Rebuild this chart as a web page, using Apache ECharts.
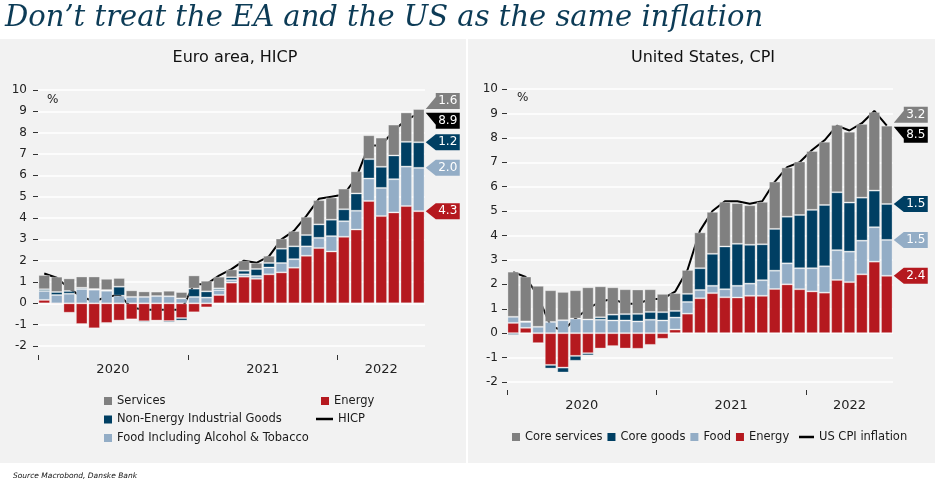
<!DOCTYPE html>
<html><head><meta charset="utf-8">
<script src="https://cdn.jsdelivr.net/npm/echarts@6/dist/echarts.min.js"></script>
<style>html,body{margin:0;padding:0;background:#fff}#c{width:935px;height:480px}</style>
</head><body><div id="c"></div>
<script>
const months = ['2020-01','2020-02','2020-03','2020-04','2020-05','2020-06','2020-07','2020-08','2020-09','2020-10','2020-11','2020-12',
'2021-01','2021-02','2021-03','2021-04','2021-05','2021-06','2021-07','2021-08','2021-09','2021-10','2021-11','2021-12',
'2022-01','2022-02','2022-03','2022-04','2022-05','2022-06','2022-07'];
const yearLabels = ['2020','2021','2022'];

// Euro area, HICP contributions (pp)
const eaEnergy   = [0.16,-0.05,-0.44,-0.97,-1.17,-0.92,-0.81,-0.75,-0.84,-0.81,-0.83,-0.69,-0.42,-0.19,0.39,0.97,1.25,1.15,1.36,1.45,1.67,2.23,2.59,2.43,3.12,3.46,4.80,4.09,4.26,4.56,4.32];
const eaFood     = [0.42,0.39,0.45,0.67,0.64,0.59,0.36,0.30,0.30,0.34,0.33,0.23,0.30,0.27,0.23,0.12,0.11,0.13,0.32,0.44,0.40,0.44,0.48,0.72,0.73,0.88,1.05,1.32,1.56,1.85,2.03];
const eaNeig     = [0.08,0.14,0.13,0.06,0.03,0.03,0.42,-0.03,-0.06,-0.03,-0.07,-0.12,0.39,0.29,0.08,0.13,0.17,0.33,0.21,0.67,0.60,0.53,0.63,0.77,0.56,0.81,0.91,0.99,1.11,1.16,1.20];
const eaServices = [0.67,0.72,0.59,0.53,0.59,0.53,0.41,0.31,0.26,0.21,0.26,0.30,0.62,0.50,0.55,0.37,0.47,0.29,0.34,0.48,0.72,0.86,1.14,1.04,0.97,1.04,1.12,1.37,1.45,1.38,1.56];
const eaHicp     = [1.4,1.2,0.7,0.3,0.1,0.3,0.4,-0.2,-0.3,-0.3,-0.3,-0.3,0.9,0.9,1.3,1.6,2.0,1.9,2.2,3.0,3.4,4.1,4.9,5.0,5.1,5.9,7.4,7.4,8.1,8.6,8.9];

// United States, CPI contributions (pp)
const usEnergy       = [0.42,0.22,-0.41,-1.30,-1.41,-0.93,-0.82,-0.63,-0.53,-0.63,-0.64,-0.48,-0.23,0.15,0.80,1.43,1.64,1.47,1.46,1.53,1.53,1.81,2.00,1.80,1.71,1.66,2.18,2.09,2.41,2.93,2.35];
const usFood         = [0.25,0.24,0.26,0.46,0.53,0.60,0.56,0.55,0.52,0.52,0.48,0.55,0.52,0.49,0.48,0.34,0.30,0.33,0.48,0.50,0.64,0.75,0.86,0.86,0.95,1.08,1.22,1.25,1.38,1.41,1.47];
const usCoreGoods    = [-0.07,0.02,-0.02,-0.15,-0.20,-0.20,-0.09,0.10,0.24,0.26,0.31,0.32,0.34,0.27,0.33,0.89,1.31,1.75,1.72,1.59,1.47,1.71,1.91,2.18,2.39,2.51,2.37,2.01,1.76,1.50,1.47];
const usCoreServices = [1.85,1.84,1.68,1.30,1.16,1.16,1.32,1.27,1.12,1.02,1.00,0.93,0.75,0.73,0.98,1.47,1.72,1.83,1.67,1.62,1.74,1.94,2.02,2.19,2.41,2.59,2.76,2.90,3.02,3.22,3.21];
const usCpi          = [2.5,2.3,1.5,0.3,0.1,0.6,1.0,1.3,1.4,1.2,1.2,1.4,1.4,1.7,2.6,4.2,5.0,5.4,5.4,5.3,5.4,6.2,6.8,7.0,7.5,7.9,8.5,8.3,8.6,9.1,8.5];

const C = {services:'#808080', neig:'#003f63', food:'#93adc6', energy:'#b5191f', line:'#000000'};
const FONT = '"DejaVu Sans", sans-serif';
const last = months.length - 1;

const TAG_MID = 'path://M0,8L10,0L34,0L34,16L10,16Z';
const TAG_DOWN = 'path://M0,16L10,4L10,0L34,0L34,16Z';
const TAG_UP = 'path://M0,0L34,0L34,16L10,16L10,12Z';

function tag(top, val, color, shape, dy) {
  return {
    silent: true,
    symbol: shape,
    symbolSize: [34, 16],
    symbolOffset: [24, dy],
    symbolKeepAspect: false,
    itemStyle: {color: color, borderWidth: 0},
    label: {show: true, position: 'inside', offset: [5, 0], color: '#fff', fontFamily: FONT, fontSize: 12,
      formatter: p => Number(p.value).toFixed(1)},
    data: [{coord: [months[last], top], value: val}]
  };
}

function barSeries(name, data, color, xi, yi, mp) {
  return {
    name: name, type: 'bar', stack: 'tot' + xi, data: data,
    xAxisIndex: xi, yAxisIndex: yi, barCategoryGap: '7%',
    itemStyle: {color: color, borderColor: 'rgba(255,255,255,0.3)', borderWidth: 1},
    emphasis: {disabled: true}, clip: false,
    markPoint: mp
  };
}

const eaTops = [eaEnergy[last], eaEnergy[last]+eaFood[last], eaEnergy[last]+eaFood[last]+eaNeig[last], eaEnergy[last]+eaFood[last]+eaNeig[last]+eaServices[last]];
const usTops = [usEnergy[last], usEnergy[last]+usFood[last], usEnergy[last]+usFood[last]+usCoreGoods[last], usEnergy[last]+usFood[last]+usCoreGoods[last]+usCoreServices[last]];

function yAx(gi, margin) {
  return {
    type: 'value', gridIndex: gi, min: -2, max: 10, interval: 1,
    axisLine: {show: false},
    axisTick: {show: true, length: 5, lineStyle: {color: '#333'}},
    axisLabel: {color: '#222', fontFamily: FONT, fontSize: 12, margin: margin},
    splitLine: {lineStyle: {color: '#ffffff', width: 1.5}}
  };
}
function xCat(gi) {
  return {type: 'category', gridIndex: gi, data: months, show: false};
}
function xYears(gi, offset, margin) {
  return {
    type: 'value', gridIndex: gi, min: 0, max: months.length, position: 'bottom', offset: offset,
    axisLine: {show: false}, splitLine: {show: false},
    axisTick: {show: true, length: 5, customValues: [0, 12, 24], lineStyle: {color: '#333'}},
    axisLabel: {color: '#222', fontFamily: FONT, fontSize: 13, margin: margin, customValues: [6, 18, 27.5],
      formatter: v => yearLabels[v < 12 ? 0 : (v < 24 ? 1 : 2)]}
  };
}

const legendText = {color: '#1a1a1a', fontFamily: FONT, fontSize: 11.5};

const option = {
  animation: false,
  backgroundColor: '#ffffff',
  graphic: [
    {type: 'rect', shape: {x: 0, y: 39, width: 466, height: 424}, style: {fill: '#f2f2f2'}, z: -10},
    {type: 'rect', shape: {x: 468, y: 39, width: 467, height: 424}, style: {fill: '#f2f2f2'}, z: -10},
    {type: 'text', x: 5, y: 18, style: {text: 'Don\u2019t treat the EA and the US as the same inflation', font: 'italic 29px "DejaVu Serif", serif', fill: '#0c3b56', verticalAlign: 'middle'}},
    {type: 'text', x: 235, y: 58, style: {text: 'Euro area, HICP', font: '16px ' + FONT, fill: '#111', align: 'center', verticalAlign: 'middle'}},
    {type: 'text', x: 703, y: 58, style: {text: 'United States, CPI', font: '16px ' + FONT, fill: '#111', align: 'center', verticalAlign: 'middle'}},
    {type: 'text', x: 47, y: 100, style: {text: '%', font: '12px ' + FONT, fill: '#222', verticalAlign: 'middle'}},
    {type: 'text', x: 517, y: 98, style: {text: '%', font: '12px ' + FONT, fill: '#222', verticalAlign: 'middle'}},
    {type: 'text', x: 13, y: 476, style: {text: 'Source Macrobond, Danske Bank', font: 'italic 7.5px ' + FONT, fill: '#111', verticalAlign: 'middle'}}
  ],
  grid: [
    {left: 38, top: 90, width: 387, height: 256},
    {left: 507, top: 89, width: 386, height: 293}
  ],
  xAxis: [xCat(0), xYears(0, 9, 8), xCat(1), xYears(1, 8, 9)],
  yAxis: [yAx(0, 11), yAx(1, 9)],
  legend: [
    {left: 99, top: 390, orient: 'vertical', itemWidth: 8, itemHeight: 8, itemGap: 6.5, icon: 'rect', textStyle: legendText,
     itemStyle: {borderWidth: 0}, selectedMode: false,
     data: ['Services', 'Non-Energy Industrial Goods', 'Food Including Alcohol & Tobacco']},
    {left: 316, top: 390, orient: 'vertical', itemWidth: 8, itemHeight: 8, icon: 'rect', textStyle: legendText,
     itemStyle: {borderWidth: 0}, selectedMode: false, data: ['Energy']},
    {left: 311, top: 408, itemWidth: 17, itemHeight: 2.5, icon: 'rect', textStyle: legendText, selectedMode: false, data: ['HICP']},
    {left: 507, top: 426, itemWidth: 8, itemHeight: 8, itemGap: 5, icon: 'rect', textStyle: legendText,
     itemStyle: {borderWidth: 0}, selectedMode: false, data: ['Core services', 'Core goods', 'Food', 'Energy']},
    {left: 794, top: 426, itemWidth: 15, itemHeight: 2.5, icon: 'rect', textStyle: legendText, selectedMode: false, data: ['US CPI inflation']}
  ],
  series: [
    {name: 'HICP', type: 'line', data: eaHicp, xAxisIndex: 0, yAxisIndex: 0, symbol: 'none', color: C.line,
     lineStyle: {color: C.line, width: 2}, z: 1, markPoint: tag(eaHicp[last], eaHicp[last], C.line, TAG_UP, 7.4)},
    barSeries('Energy', eaEnergy, C.energy, 0, 0, tag(eaTops[0], eaEnergy[last], C.energy, TAG_MID, 0)),
    barSeries('Food Including Alcohol & Tobacco', eaFood, C.food, 0, 0, tag(eaTops[1], eaFood[last], C.food, TAG_MID, 0)),
    barSeries('Non-Energy Industrial Goods', eaNeig, C.neig, 0, 0, tag(eaTops[2], eaNeig[last], C.neig, TAG_MID, 0)),
    barSeries('Services', eaServices, C.services, 0, 0, tag(eaTops[3], eaServices[last], C.services, TAG_DOWN, -8)),

    {name: 'US CPI inflation', type: 'line', data: usCpi, xAxisIndex: 2, yAxisIndex: 1, symbol: 'none', color: C.line,
     lineStyle: {color: C.line, width: 2}, z: 1, markPoint: tag(usCpi[last], usCpi[last], C.line, TAG_UP, 9)},
    barSeries('Energy', usEnergy, C.energy, 2, 1, tag(usTops[0], usEnergy[last], C.energy, TAG_MID, 0)),
    barSeries('Food', usFood, C.food, 2, 1, tag(usTops[1], usFood[last], C.food, TAG_MID, 0)),
    barSeries('Core goods', usCoreGoods, C.neig, 2, 1, tag(usTops[2], usCoreGoods[last], C.neig, TAG_MID, 0)),
    barSeries('Core services', usCoreServices, C.services, 2, 1, tag(usTops[3], usCoreServices[last], C.services, TAG_DOWN, -11))
  ]
};

const chart = echarts.init(document.getElementById('c'), null, {renderer: 'canvas'});
chart.setOption(option);
</script>
</body></html>
